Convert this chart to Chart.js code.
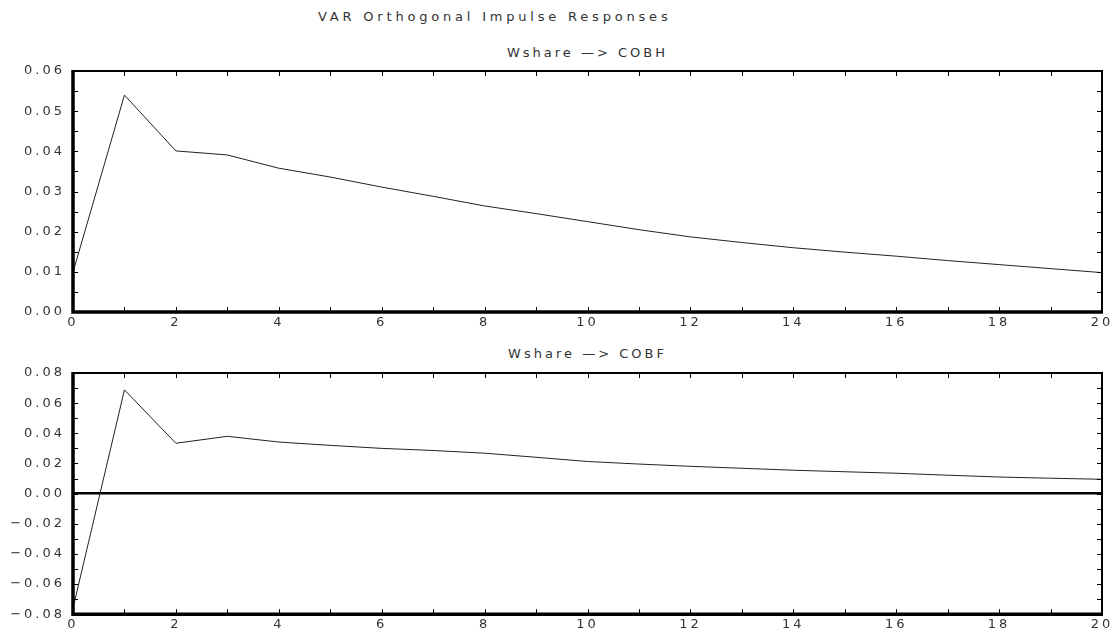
<!DOCTYPE html>
<html>
<head>
<meta charset="utf-8">
<script src="https://cdn.jsdelivr.net/npm/chart.js@4"></script>
<style>
  body { margin: 0; background: #fff; width: 1119px; height: 630px; position: relative; overflow: hidden; }
  canvas { position: absolute; left: 0; }
  .ttl { position: absolute; font: 13px "DejaVu Sans", sans-serif; letter-spacing: 3px; color: #333; white-space: nowrap; }
</style>
</head>
<body>
<div class="ttl" style="left:318px; top:9px; letter-spacing:3.8px;">VAR Orthogonal Impulse Responses</div>
<div class="ttl" style="left:73px; width:1029px; text-align:center; top:45px;">Wshare —&gt; COBH</div>
<div class="ttl" style="left:73px; width:1029px; text-align:center; top:346px;">Wshare —&gt; COBF</div>
<canvas id="cobhChart" width="1119" height="340" style="top:0px"></canvas>
<canvas id="cobfChart" width="1119" height="295" style="top:335px"></canvas>
<script>
// horizon steps and responses
const steps = [0, 1, 2, 3, 4, 5, 6, 7, 8, 9, 10, 11, 12, 13, 14, 15, 16, 17, 18, 19, 20];
const cobhResponse = [0.0099, 0.0540, 0.0401, 0.0391, 0.0358, 0.0336, 0.0311, 0.0288, 0.0264, 0.0245, 0.0225,
                      0.0205, 0.0187, 0.0173, 0.0160, 0.0149, 0.0139, 0.0128, 0.0118, 0.0108, 0.0098];
const cobfResponse = [-0.076, 0.0688, 0.0334, 0.0380, 0.0342, 0.0320, 0.0300, 0.0286, 0.0268, 0.0241, 0.0213,
                      0.0196, 0.0181, 0.0168, 0.0155, 0.0145, 0.0135, 0.0122, 0.0110, 0.0102, 0.0095];
const xTicks = { min: 0, max: 20, step: 2 };
const cobhTicks = { min: 0, max: 0.06, step: 0.01 };
const cobfTicks = { min: -0.08, max: 0.08, step: 0.02 };

const textColor = '#333';
const tickFont = { family: 'DejaVu Sans', size: 13 };

// frame with inward ticks, like the old stats package output
const framePlugin = {
    id: 'frame',
    beforeDraw(chart) {
        chart.ctx.letterSpacing = '3px';
    },
    afterDraw(chart, args, opts) {
        const ctx = chart.ctx;
        const a = chart.chartArea;
        const xs = chart.scales.x, ys = chart.scales.y;
        ctx.save();
        ctx.letterSpacing = '0px';
        ctx.strokeStyle = '#000';
        // minor ticks
        ctx.lineWidth = 1;
        ctx.beginPath();
        for (let v = xs.min; v <= xs.max; v++) {
            const px = Math.round(xs.getPixelForValue(v)) + 0.5;
            ctx.moveTo(px, a.bottom); ctx.lineTo(px, a.bottom - 5);
            ctx.moveTo(px, a.top); ctx.lineTo(px, a.top + 5);
        }
        const n = Math.round((ys.max - ys.min) / opts.minor);
        for (let i = 0; i <= n; i++) {
            const py = Math.round(ys.getPixelForValue(ys.min + i * opts.minor)) + 0.5;
            ctx.moveTo(a.left, py); ctx.lineTo(a.left + 5, py);
            ctx.moveTo(a.right, py); ctx.lineTo(a.right - 5, py);
        }
        ctx.stroke();
        // box
        ctx.lineWidth = 2;
        ctx.beginPath();
        ctx.moveTo(a.left, a.top); ctx.lineTo(a.right, a.top); ctx.lineTo(a.right, a.bottom);
        ctx.stroke();
        ctx.lineWidth = 3.5;
        ctx.beginPath();
        ctx.moveTo(a.left, a.top - 1); ctx.lineTo(a.left, a.bottom); ctx.lineTo(a.right + 1, a.bottom);
        ctx.stroke();
        ctx.restore();
    }
};

function makeChart(id, values, yr, minor, padTop, xHeight) {
    const ctx = document.getElementById(id).getContext('2d');
    return new Chart(ctx, {
        type: 'line',
        data: {
            datasets: [{
                data: steps.map((s, i) => ({ x: s, y: values[i] })),
                borderColor: '#222',
                borderWidth: 1,
                pointRadius: 0,
                tension: 0,
                fill: false
            }]
        },
        options: {
            responsive: false,
            animation: false,
            devicePixelRatio: 1,
            layout: { padding: { top: padTop, right: 17, left: 0, bottom: 0 } },
            plugins: {
                legend: { display: false },
                tooltip: { enabled: false },
                frame: { minor: minor }
            },
            scales: {
                x: {
                    type: 'linear',
                    min: xTicks.min,
                    max: xTicks.max,
                    afterFit: s => { s.height = xHeight; },
                    border: { display: false },
                    grid: { display: false, drawTicks: false },
                    ticks: { stepSize: xTicks.step, color: textColor, font: tickFont, padding: 3, maxRotation: 0 }
                },
                y: {
                    min: yr.min,
                    max: yr.max,
                    afterFit: s => { s.width = 73; },
                    border: { display: false },
                    grid: {
                        drawTicks: false,
                        color: c => (Math.abs(c.tick.value) < 1e-9 && yr.min < 0) ? '#000' : 'rgba(0,0,0,0)',
                        lineWidth: c => (Math.abs(c.tick.value) < 1e-9 && yr.min < 0) ? 2.5 : 0
                    },
                    ticks: {
                        stepSize: yr.step,
                        color: textColor,
                        font: tickFont,
                        padding: 8,
                        callback: v => v.toFixed(2).replace('-', '−')
                    }
                }
            }
        },
        plugins: [framePlugin]
    });
}

makeChart('cobhChart', cobhResponse, cobhTicks, 0.005, 71, 28);
makeChart('cobfChart', cobfResponse, cobfTicks, 0.01, 38, 14);
</script>
</body>
</html>
